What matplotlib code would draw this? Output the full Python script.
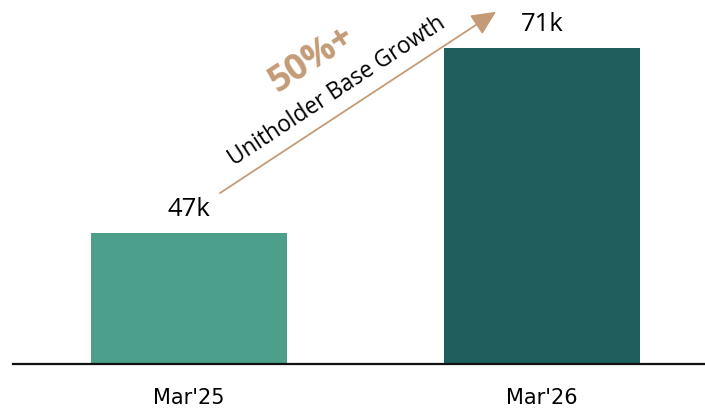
import matplotlib
matplotlib.use("Agg")
import matplotlib.pyplot as plt

categories = ["Mar'25", "Mar'26"]
values = [47, 71]
value_labels = ["47k", "71k"]
bar_colors = ["#4C9F8B", "#1E5E5C"]
growth_big = "50%+"
growth_text = "Unitholder Base Growth"
tan = "#C49B76"

fig = plt.figure(figsize=(7.05, 4.09), dpi=100)
ax = fig.add_axes([13/705, 45/409, 692/705, 364/409])

x = list(range(len(categories)))
ax.bar(x, values, width=0.555, color=bar_colors, zorder=2)
ax.set_xlim(-0.4986, 1.4618)
ax.set_ylim(30, 77.27)

for xi, v, lab in zip(x, values, value_labels):
    ax.annotate(lab, (xi, v), xytext=(0, 12.5), textcoords="offset points",
                ha="center", va="baseline", fontsize=18.5, family="Open Sans",
                color="#000000")

for s in ["top", "right", "left"]:
    ax.spines[s].set_visible(False)
ax.spines["bottom"].set_linewidth(1.6)
ax.spines["bottom"].set_color("#111111")
ax.set_yticks([])
ax.set_xticks(x)
ax.set_xticklabels(categories, fontsize=15, family="DejaVu Sans", color="#000000")
ax.tick_params(axis="x", length=0, pad=17)

# growth arrow between bars
ax.annotate("", xy=(0.870, 75.75), xytext=(0.0878, 52.2),
            arrowprops=dict(arrowstyle="-|>,head_length=0.75,head_width=0.35",
                            color=tan, lw=1.3, mutation_scale=20,
                            shrinkA=0, shrinkB=0))
ax.text(0.419, 65.45, growth_text, rotation=33.3, rotation_mode="anchor",
        ha="center", va="center", fontsize=16.3, family="Open Sans",
        color="#000000")
ax.text(0.348, 69.48, growth_big, rotation=33.3, rotation_mode="anchor",
        ha="center", va="center", fontsize=26, family="Open Sans",
        fontweight="bold", color=tan)

fig.savefig("out.png", dpi=100)
